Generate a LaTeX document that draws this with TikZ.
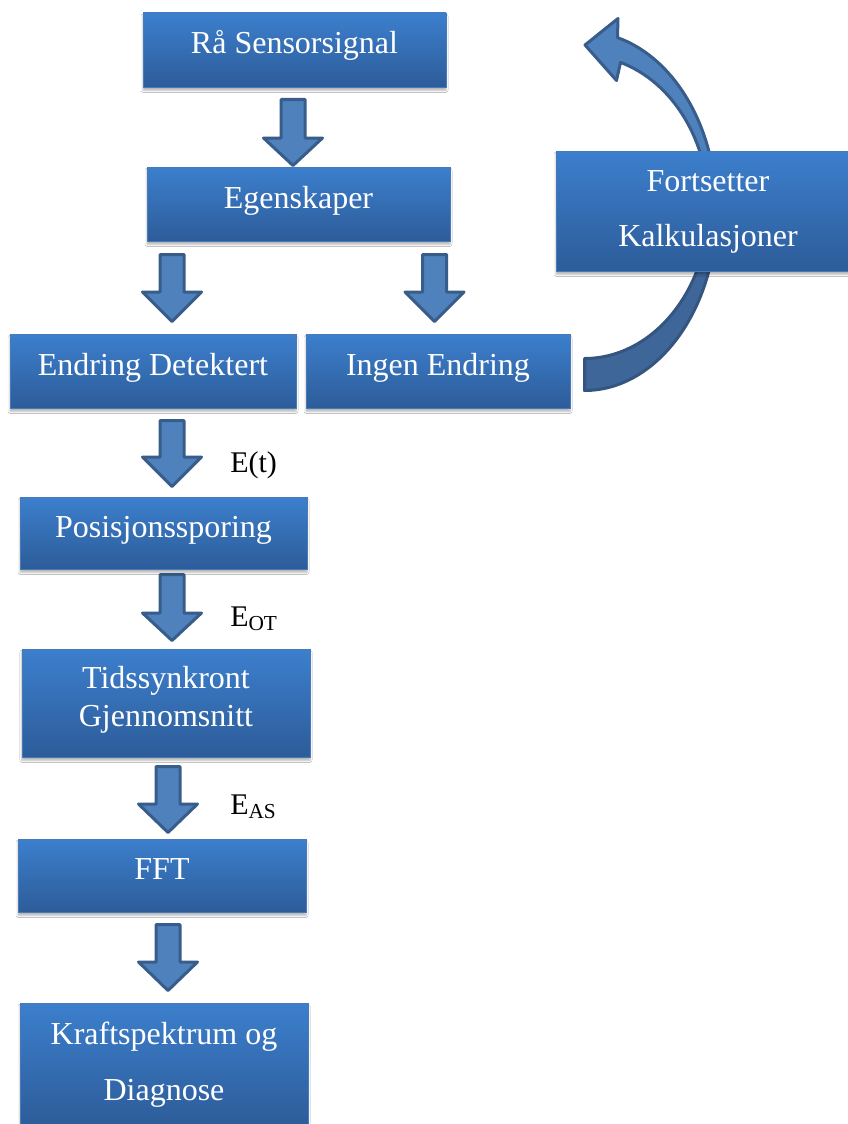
\documentclass[tikz,border=0pt]{standalone}
\usepackage{fontspec}
\setmainfont{Liberation Serif}
\usetikzlibrary{shadows.blur}
\definecolor{boxtop}{RGB}{60,127,205}
\definecolor{boxbot}{RGB}{45,92,153}
\definecolor{boxline}{RGB}{70,122,186}
\definecolor{arrfill}{RGB}{79,129,189}
\definecolor{arrline}{RGB}{56,93,138}
\definecolor{arrdark}{RGB}{63,102,152}
\definecolor{arrdarkline}{RGB}{52,85,127}
\tikzset{
  flowbox/.style={rectangle, inner sep=0pt, top color=boxtop, bottom color=boxbot,
    draw=boxline, line width=0.5pt, text=white, font=\fontsize{24}{29}\selectfont,
    blur shadow={shadow xshift=0pt, shadow yshift=-2.5pt, shadow blur radius=1.5pt,
      shadow blur steps=6, shadow opacity=30}},
  oneline/.style={text height=16pt, text depth=10pt},
  sz/.style 2 args={minimum width=#1*0.75pt, minimum height=#2*0.75pt},
  blockarrow/.style={fill=arrfill, draw=arrline, line width=2.25pt, line join=round},
  elabel/.style={font=\fontsize{22.5}{27}\selectfont, text=black, inner sep=0pt, anchor=base west},
}
\newcommand\blockdown[4]{%
  \draw[blockarrow] ({#1-12},{#2+1.5}) -- ({#1+12},{#2+1.5}) -- ({#1+12},#3) -- ({#1+29.5},#3)
    -- (#1,{#4-1.5}) -- ({#1-29.5},#3) -- ({#1-12},#3) -- cycle;}
\newcommand\loopback{(584.5,390.5) .. controls (656.7,390.5) and (716.5,310.1) .. (716.5,211)
  .. controls (716.5,129.7) and (675.9,58.6) .. (617.5,37.6)
  -- (618,18.5) -- (585,45) -- (616.5,80.5) -- (620.5,62.4)
  .. controls (672.9,82.2) and (708.5,140.8) .. (708.5,207)
  .. controls (708.5,290.7) and (652.3,358.5) .. (584.5,358.5) -- cycle}
\begin{document}
\begin{tikzpicture}[x=0.75pt, y=-0.75pt]
\useasboundingbox (0,0) rectangle (848,1124);
\fill[white] (0,0) rectangle (848,1124);

% curved return arrow
\fill[arrfill] \loopback;
\begin{scope}
  \clip (500,211) rectangle (800,420);
  \fill[arrdark] \loopback;
\end{scope}
\begin{scope}
  \clip (500,0) rectangle (800,211);
  \draw[arrline, line width=2.25pt, line join=round] \loopback;
\end{scope}
\begin{scope}
  \clip (500,211) rectangle (800,420);
  \draw[arrdarkline, line width=2.25pt, line join=round] \loopback;
\end{scope}

% block arrows
\blockdown{293}{98}{138}{167}
\blockdown{172}{253}{292}{323}
\blockdown{434.5}{253}{292}{323}
\blockdown{172}{419}{457}{488}
\blockdown{172}{573}{613}{642}
\blockdown{168}{765}{804}{834}
\blockdown{168}{923}{962}{992}

% boxes
\node[flowbox, oneline, sz={303}{74}] (raa) at (294.5,50) {Rå Sensorsignal};
\node[flowbox, oneline, sz={303}{74}] (egen) at (298.5,204) {Egenskaper};
\node[flowbox, oneline, sz={286}{74}] (endr) at (153,371) {Endring Detektert};
\node[flowbox, oneline, sz={264}{74}] (ingen) at (438,371) {Ingen Endring};
\node[flowbox, sz={304}{120}] (forts) at (708,211)
  {\begin{tabular}{@{}c@{}}Fortsetter\\[12.25pt]Kalkulasjoner\end{tabular}};
\node[flowbox, oneline, sz={287}{72}] (pos) at (163.5,533) {Posisjonssporing};
\node[flowbox, sz={288}{108}] (tids) at (166,703)
  {\raisebox{2.8pt}[\height][\depth]{\begin{tabular}{@{}c@{}}Tidssynkront\\[-0.5pt]Gjennomsnitt\end{tabular}}};
\node[flowbox, oneline, sz={288}{73}] (fft) at (162,875.5) {FFT};
\node[flowbox, sz={288}{123}] (kraft) at (164,1064.5)
  {\begin{tabular}{@{}c@{}}Kraftspektrum og\\[13pt]Diagnose\end{tabular}};

% labels
\node[elabel] (lt) at (230,472) {E(t)};
\node[elabel] (lot) at (230,626) {E\raisebox{-3pt}{\fontsize{16}{16}\selectfont OT}};
\node[elabel] (las) at (230,814) {E\raisebox{-3pt}{\fontsize{16}{16}\selectfont AS}};
\end{tikzpicture}
\end{document}
